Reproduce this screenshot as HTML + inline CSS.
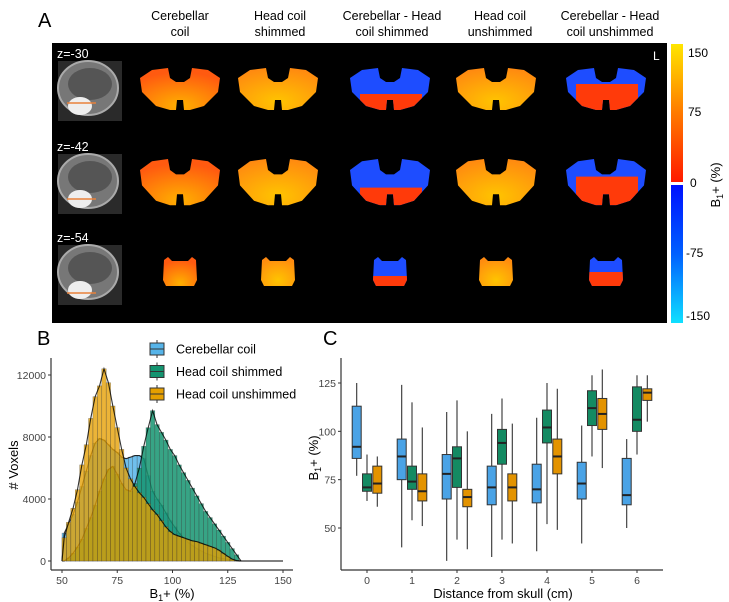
<!DOCTYPE html>
<html><head><meta charset="utf-8"><style>
html,body{margin:0;padding:0;background:#fff;}
svg{display:block;font-family:"Liberation Sans",Arial,sans-serif;}
</style></head><body>
<svg id="fig" width="729" height="602" viewBox="0 0 729 602" xmlns="http://www.w3.org/2000/svg">
<defs>
<linearGradient id="cbarWarm" x1="0" y1="1" x2="0" y2="0"><stop offset="0" stop-color="#ff1a00"/><stop offset="0.5" stop-color="#ff7a00"/><stop offset="1" stop-color="#ffe600"/></linearGradient>
<linearGradient id="cbarCool" x1="0" y1="0" x2="0" y2="1"><stop offset="0" stop-color="#0010ff"/><stop offset="0.5" stop-color="#0060ff"/><stop offset="1" stop-color="#10e0ff"/></linearGradient>
<radialGradient id="warm1" cx="0.5" cy="0.9" r="0.8"><stop offset="0" stop-color="#ffb000"/><stop offset="1" stop-color="#ff5a10"/></radialGradient>
<radialGradient id="warm2" cx="0.5" cy="0.8" r="0.8"><stop offset="0" stop-color="#ffc400"/><stop offset="1" stop-color="#ff8a10"/></radialGradient>
<path id="cereb" d="M-40,-10 L-28,-18 L-12,-20 L-10,-10 L-4,-6 L4,-6 L10,-10 L12,-20 L28,-18 L40,-10 L38,4 L24,18 L10,22 L4,22 L3,12 L-3,12 L-4,22 L-10,22 L-24,18 L-38,4 Z"/>
<path id="small" d="M-16,-12 L-12,-15 L-8,-11 L8,-11 L12,-15 L16,-12 L17,8 L14,14 L-14,14 L-17,8 Z"/>
</defs>

<!-- Panel A -->
<text x="38" y="27" font-size="20">A</text>
<g font-size="12.5" text-anchor="middle" fill="#000">
<text x="180" y="20"><tspan x="180">Cerebellar</tspan><tspan x="180" dy="16">coil</tspan></text>
<text x="280" y="20"><tspan x="280">Head coil</tspan><tspan x="280" dy="16">shimmed</tspan></text>
<text x="392" y="20"><tspan x="392">Cerebellar - Head</tspan><tspan x="392" dy="16">coil shimmed</tspan></text>
<text x="500" y="20"><tspan x="500">Head coil</tspan><tspan x="500" dy="16">unshimmed</tspan></text>
<text x="610" y="20"><tspan x="610">Cerebellar - Head</tspan><tspan x="610" dy="16">coil unshimmed</tspan></text>
</g>
<rect x="52" y="43" width="615" height="280" fill="#000"/>
<text x="653" y="60" fill="#fff" font-size="12">L</text>
<g id="maps"></g>

<!-- colorbar -->
<rect x="671" y="44" width="12" height="138" fill="url(#cbarWarm)"/>
<rect x="671" y="185" width="12" height="138" fill="url(#cbarCool)"/>
<g font-size="12" fill="#000">
<text x="688" y="57">150</text><text x="688" y="116">75</text><text x="690" y="187">0</text><text x="686" y="257">-75</text><text x="686" y="320">-150</text>
</g>
<text transform="translate(720,185) rotate(-90)" font-size="13" text-anchor="middle">B<tspan font-size="9" dy="3">1</tspan><tspan dy="-3">+ (%)</tspan></text>

<!-- Panel B -->
<text x="37" y="345" font-size="20">B</text>
<g id="histB"></g>

<!-- Panel C -->
<text x="323" y="345" font-size="20">C</text>
<g id="boxC"></g>
</svg>
<script>
// ---------- Panel B data ----------
const binStarts = [50,52,54,56,58,60,62,64,66,68,70,72,74,76,78,80,82,84,86,88,90,92,94,96,98,100,102,104,106,108,110,112,114,116,118,120,122,124,126,128];
const cerebellarCounts = [1800,2400,3000,3800,4800,5800,6800,7600,7900,7800,7500,7200,7000,6700,6600,6700,6800,6800,6600,5500,4500,4000,3600,3100,2600,2200,1800,1500,1200,1000,800,650,500,400,300,200,150,100,50,20];
const shimmedCounts = [0,200,500,900,1400,2100,2800,3600,4500,5300,5900,6100,5600,5000,4600,4500,5000,6000,7400,8600,9700,8800,8300,7800,7200,6800,6200,5700,5200,4700,4200,3700,3200,2800,2400,2000,1600,1200,800,400];
const unshimmedCounts = [1500,2500,3400,4600,6200,7500,9200,10600,11300,12400,11500,10000,8600,7200,6000,5300,4800,4400,4100,3700,3300,3000,2600,2200,1900,1700,1600,1500,1400,1300,1250,1150,1050,950,850,700,500,300,120,30];
const xTicksB = [50,75,100,125,150];
const yTicksB = [0,4000,8000,12000];
const seriesNames = ["Cerebellar coil","Head coil shimmed","Head coil unshimmed"];

// ---------- Panel C data ----------
const distances = [0,1,2,3,4,5,6];
const cerebLow=[77,40,33,35,38,42,50], cerebQ1=[86,75,65,62,63,65,62], cerebMed=[92,87,78,71,70,73,67], cerebQ3=[113,96,88,82,83,84,86], cerebHigh=[125,124,110,109,107,103,96];
const shimLow=[64,54,44,44,52,87,88], shimQ1=[69,70,71,83,94,103,100], shimMed=[71,74,86,94,102,112,106], shimQ3=[78,82,92,101,111,121,123], shimHigh=[88,115,116,117,125,129,129];
const unshLow=[61,51,39,42,49,81,105], unshQ1=[68,64,61,64,78,101,116], unshMed=[73,69,66,71,87,109,120], unshQ3=[82,78,70,78,96,117,122], unshHigh=[87,102,100,104,122,132,129];
const yTicksC=[50,75,100,125];

const NS="http://www.w3.org/2000/svg";
function mk(tag,attrs,parent){const e=document.createElementNS(NS,tag);for(const k in attrs)e.setAttribute(k,attrs[k]);if(parent)parent.appendChild(e);return e;}

// ---------- Panel A maps ----------
(function(){
  const g=document.getElementById('maps');
  const rows=[{y:88,label:"z=-30",sx:1,sy:1,shape:'cereb'},{y:181,label:"z=-42",sx:1,sy:1.1,shape:'cereb'},{y:272,label:"z=-54",sx:1,sy:1,shape:'small'}];
  const cols=[180,278,390,496,606];
  rows.forEach((r,ri)=>{
    const t=mk('text',{x:57,y:r.y-30,fill:'#fff','font-size':'12.5'},g);t.textContent=r.label;
    
    
    const sg=mk('g',{},g);
    
    
    mk('rect',{x:58,y:r.y-27,width:64,height:60,fill:'#2a2a2a'},sg);
    mk('ellipse',{cx:88,cy:r.y,rx:30,ry:27,fill:'#777',stroke:'#aaa','stroke-width':2},sg);
    mk('ellipse',{cx:90,cy:r.y-4,rx:22,ry:16,fill:'#555'},sg);
    mk('ellipse',{cx:80,cy:r.y+18,rx:12,ry:9,fill:'#eee'},sg);
    mk('line',{x1:67,x2:96,y1:r.y+18+(ri-1)*3,y2:r.y+18+(ri-1)*3,stroke:'#e8803a','stroke-width':1.5},sg);
    cols.forEach((cx,ci)=>{
      const m=mk('g',{transform:`translate(${cx},${r.y}) scale(${r.sx},${r.sy})`},g);
      
      
      if(ci===2||ci===4){
        const id='clip'+ri+ci;
        const cp=mk('clipPath',{id:id},m);mk('use',{href:'#'+r.shape},cp);
        mk('rect',{x:-45,y:-25,width:90,height:50,fill:'#1e4dff','clip-path':`url(#${id})`},m);
        const top=ci===2?(r.shape==='small'?4:6):(r.shape==='small'?0:-4);
        mk('rect',{x:-30,y:top,width:62,height:30,fill:'#ff3a0a','clip-path':`url(#${id})`},m);
      } else {
        mk('use',{href:'#'+r.shape,fill:(ci===0?'url(#warm1)':'url(#warm2)')},m);
      }
    });
  });
})();

// ---------- Panel B ----------
(function(){
  const g=document.getElementById('histB');
  const X0=62,X1=283,Y0=561,Y12=375;
  const xs=v=>X0+(v-50)*(X1-X0)/100;
  const ys=v=>Y0+(v)*(Y12-Y0)/12000;
  const fills=['#56B4E9','#149470','#E69F00'];
  const data=[cerebellarCounts,shimmedCounts,unshimmedCounts];
  const ops=[0.85,0.85,0.78];
  data.forEach((arr,si)=>{
    const sg=mk('g',{},g);
    
    
    arr.forEach((v,i)=>{
      const x=xs(binStarts[i]),w=xs(binStarts[i]+2)-x;
      const r=mk('rect',{x:x,y:ys(v),width:w,height:Y0-ys(v),fill:fills[si],'fill-opacity':ops[si],stroke:'#333','stroke-width':0.5,'stroke-opacity':0.5},sg);
      
      
    });
    let d='M'+xs(50)+','+Y0;
    arr.forEach((v,i)=>{d+=' L'+(xs(binStarts[i])+xs(binStarts[i]+2))/2+','+ys(v);});
    d+=' L'+xs(131)+','+Y0;
    const p=mk('path',{d:d,fill:'none',stroke:'#000','stroke-width':1.1,'stroke-opacity':0.8},sg);
    
    
  });
  mk('line',{x1:xs(130),x2:xs(150),y1:Y0,y2:Y0,stroke:'#000','stroke-width':1},g);
  mk('line',{x1:51,x2:51,y1:358,y2:570,stroke:'#333','stroke-width':1.2},g);
  mk('line',{x1:51,x2:293,y1:570,y2:570,stroke:'#333','stroke-width':1.2},g);
  xTicksB.forEach(t=>{
    mk('line',{x1:xs(t),x2:xs(t),y1:570,y2:573,stroke:'#333'},g);
    const tx=mk('text',{x:xs(t),y:584,'font-size':10.5,fill:'#444','text-anchor':'middle'},g);tx.textContent=t;
    
    
  });
  yTicksB.forEach(t=>{
    mk('line',{x1:48,x2:51,y1:ys(t),y2:ys(t),stroke:'#333'},g);
    const tx=mk('text',{x:46,y:ys(t)+4,'font-size':10.5,fill:'#444','text-anchor':'end'},g);tx.textContent=t;
    
    
  });
  const xt=mk('text',{x:172,y:598,'font-size':13,'text-anchor':'middle'},g);
  xt.innerHTML='B<tspan font-size="9" dy="3">1</tspan><tspan dy="-3">+ (%)</tspan>';
  
  
  const yt=mk('text',{transform:'translate(18,465) rotate(-90)','font-size':13,'text-anchor':'middle'},g);yt.textContent='# Voxels';
  
  
  seriesNames.forEach((n,i)=>{
    const y=349+i*22.5;
    const lg=mk('g',{},g);
    
    
    mk('line',{x1:157,x2:157,y1:y-9,y2:y+9,stroke:'#333','stroke-width':1},lg);
    mk('rect',{x:150,y:y-6,width:14,height:12,fill:['#56B4E9','#149470','#E69F00'][i],stroke:'#333','stroke-width':1},lg);
    mk('line',{x1:150,x2:164,y1:y,y2:y,stroke:'#333','stroke-width':1},lg);
    const t=mk('text',{x:176,y:y+4.5,'font-size':12.5},lg);t.textContent=n;
  });
})();

// ---------- Panel C ----------
(function(){
  const g=document.getElementById('boxC');
  const ys=v=>383+(125-v)*(528-383)/75;
  const xc=d=>367+d*45;
  const colors=['#4aa3e6','#148a62','#e39300'];
  const groups=[[cerebLow,cerebQ1,cerebMed,cerebQ3,cerebHigh],[shimLow,shimQ1,shimMed,shimQ3,shimHigh],[unshLow,unshQ1,unshMed,unshQ3,unshHigh]];
  distances.forEach((d,di)=>{
    groups.forEach((s,si)=>{
      const cx=xc(d)+(si-1)*10.3, w=9;
      const bg=mk('g',{},g);
      
      
      mk('line',{x1:cx,x2:cx,y1:ys(s[0][di]),y2:ys(s[4][di]),stroke:'#333','stroke-width':1.1},bg);
      mk('rect',{x:cx-w/2,y:ys(s[3][di]),width:w,height:ys(s[1][di])-ys(s[3][di]),fill:colors[si],stroke:'#333','stroke-width':1},bg);
      mk('line',{x1:cx-w/2,x2:cx+w/2,y1:ys(s[2][di]),y2:ys(s[2][di]),stroke:'#222','stroke-width':2},bg);
    });
  });
  mk('line',{x1:341,x2:341,y1:358,y2:570,stroke:'#333','stroke-width':1.2},g);
  mk('line',{x1:341,x2:663,y1:570,y2:570,stroke:'#333','stroke-width':1.2},g);
  distances.forEach(d=>{
    mk('line',{x1:xc(d),x2:xc(d),y1:570,y2:573,stroke:'#333'},g);
    const t=mk('text',{x:xc(d),y:584,'font-size':10.5,fill:'#444','text-anchor':'middle'},g);t.textContent=d;
    
    
  });
  yTicksC.forEach(v=>{
    mk('line',{x1:338,x2:341,y1:ys(v),y2:ys(v),stroke:'#333'},g);
    const t=mk('text',{x:336,y:ys(v)+4,'font-size':10.5,fill:'#444','text-anchor':'end'},g);t.textContent=v;
    
    
  });
  const xt=mk('text',{x:503,y:598,'font-size':13,'text-anchor':'middle'},g);xt.textContent='Distance from skull (cm)';
  
  
  const yt=mk('text',{transform:'translate(318,458) rotate(-90)','font-size':13,'text-anchor':'middle'},g);
  yt.innerHTML='B<tspan font-size="9" dy="3">1</tspan><tspan dy="-3">+ (%)</tspan>';
  
  
})();
</script>
</body></html>
